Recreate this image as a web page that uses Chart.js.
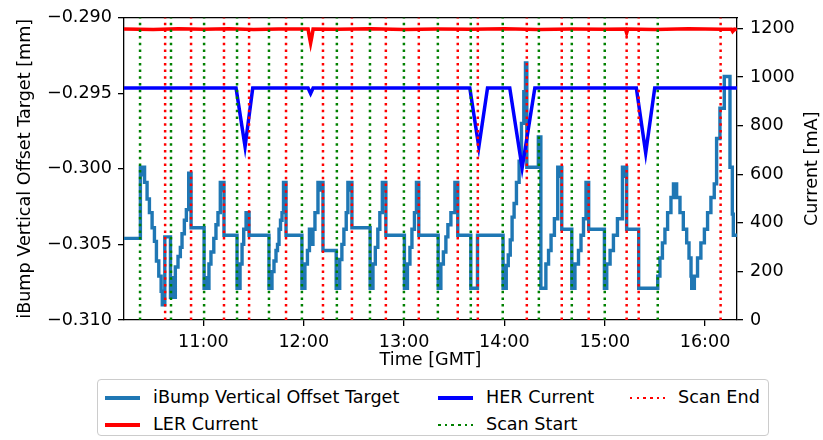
<!DOCTYPE html>
<html><head><meta charset="utf-8">
<script src="https://cdn.jsdelivr.net/npm/chart.js@4.4.1/dist/chart.umd.min.js"></script>
<style>
html,body{margin:0;padding:0;background:#fff;}
body{width:823px;height:440px;overflow:hidden;position:relative;font-family:"DejaVu Sans",sans-serif;}
#wrap{position:absolute;left:0;top:0;width:823px;height:374px;}
#legend{position:absolute;left:97px;top:379px;width:672px;height:57px;border:1px solid #cccccc;border-radius:4px;box-sizing:border-box;background:#fff;}
.lab{position:absolute;font-size:17.6px;line-height:20px;color:#000;white-space:nowrap;}
.sw{position:absolute;width:35px;}
</style>
</head><body>
<div id="wrap"><canvas id="c" width="823" height="374"></canvas></div>
<div id="legend"></div>
<script>
// ---------- data (time in minutes since 00:00 GMT) ----------
const iBumpTime = [
 612.5,622.3,623.3,623.9,624.8,626.3,627.7,629.3,630.7,631.9,633.3,634.7,635.4,636.9,
 640.3,641.2,641.8,643.2,644.8,646.2,647.2,648.6,649.8,651.2,652.6,
 660.4,661.6,662.2,663.3,664.5,666.2,667.5,668.7,670.1,670.8,671.4,672.3,
 680.1,681.9,683.1,684.1,685.5,686.4,686.8,687.3,
 699.2,701.0,702.2,703.4,704.3,705.2,706.1,707.0,707.9,708.5,708.9,709.4,
 718.9,720.7,722.2,723.4,724.6,725.5,726.7,728.5,729.7,730.3,731.5,
 739.4,741.5,742.8,744.0,745.4,746.4,747.6,748.2,748.8,
 759.7,761.4,762.8,764.3,765.5,767.0,768.2,768.6,769.1,
 780.2,782.0,783.5,784.7,786.2,787.4,788.8,
 800.4,802.0,803.5,805.0,806.2,808.0,810.4,811.3,811.7,812.1,
 819.9,823.9,
 839.2,841.1,842.3,843.5,844.6,845.8,847.2,848.8,850.2,851.6,852.6,853.4,
 860.3,861.8,864.8,866.4,867.9,869.9,871.9,872.8,873.4,874.3,
 880.3,882.2,884.3,885.8,887.3,888.8,889.5,889.9,890.4,
 899.8,901.2,903.2,905.2,907.6,910.6,911.7,912.3,913.1,
 920.3,
 931.7,933.0,934.5,936.0,937.6,939.6,941.1,943.0,945.0,947.0,949.0,950.4,951.6,952.0,952.6,953.0,953.6,955.5,957.5,959.6,961.5,963.5,965.5,966.9,968.9,971.5,974.9,976.3,976.9,979.1
];
const iBumpValue = [
 -0.3046,-0.2999,-0.3004,-0.2999,-0.3009,-0.3020,-0.3029,-0.3039,-0.3048,-0.3061,-0.3071,-0.3081,-0.3090,-0.3045,
 -0.3085,-0.3072,-0.3085,-0.3065,-0.3058,-0.3052,-0.3043,-0.3034,-0.3027,-0.3003,-0.3039,
 -0.3079,-0.3072,-0.3079,-0.3063,-0.3055,-0.3046,-0.3037,-0.3029,-0.3009,-0.3014,-0.3009,-0.3044,
 -0.3079,-0.3063,-0.3050,-0.3040,-0.3029,-0.3037,-0.3029,-0.3044,
 -0.3079,-0.3068,-0.3061,-0.3054,-0.3050,-0.3040,-0.3034,-0.3029,-0.3009,-0.3014,-0.3009,-0.3044,
 -0.3079,-0.3063,-0.3054,-0.3040,-0.3050,-0.3040,-0.3029,-0.3009,-0.3014,-0.3009,-0.3054,
 -0.3079,-0.3060,-0.3050,-0.3040,-0.3029,-0.3009,-0.3014,-0.3009,-0.3039,
 -0.3079,-0.3063,-0.3052,-0.3040,-0.3029,-0.3009,-0.3014,-0.3009,-0.3044,
 -0.3079,-0.3063,-0.3052,-0.3040,-0.3029,-0.3009,-0.3044,
 -0.3079,-0.3063,-0.3055,-0.3045,-0.3037,-0.3029,-0.3009,-0.3014,-0.3009,-0.3044,
 -0.3079,-0.3044,
 -0.3079,-0.3064,-0.3057,-0.3047,-0.3032,-0.3023,-0.3009,-0.2995,-0.2970,-0.2949,-0.2930,-0.2999,
 -0.2979,-0.3079,-0.3063,-0.3054,-0.3044,-0.3033,-0.2999,-0.3005,-0.2999,-0.3040,
 -0.3079,-0.3063,-0.3054,-0.3044,-0.3033,-0.3009,-0.3014,-0.3009,-0.3040,
 -0.3079,-0.3063,-0.3054,-0.3044,-0.3033,-0.2999,-0.3005,-0.2999,-0.3040,
 -0.3079,
 -0.3071,-0.3059,-0.3049,-0.3040,-0.3029,-0.3019,-0.3010,-0.3019,-0.3029,-0.3040,-0.3049,-0.3059,-0.3071,-0.3079,-0.3071,-0.3079,-0.3071,-0.3059,-0.3049,-0.3040,-0.3029,-0.3019,-0.3010,-0.2980,-0.2960,-0.2939,-0.2999,-0.3030,-0.3044,-0.3044
];
const herTime  = [612.5,679.5,684.9,689.5,722.6,724.1,725.6,819.3,824.7,829.9,843.2,850.6,858.2,918.9,924.5,929.9,979.1];
const herValue = [955,955,714,955,955,932,955,955,712,955,955,626,955,955,687,955,955];
const lerTime  = [612.5,630,645,660,675,690,705,722.6,723.4,724.1,724.8,725.6,740,760,780,800,820,840,860,880,900,912.4,913.1,913.8,930,950,970,975.8,976.5,977.6,979.1];
const lerValue = [1198,1196,1199,1197,1199,1196,1198,1198,1165,1140,1165,1198,1197,1199,1196,1198,1197,1199,1196,1198,1197,1198,1182,1198,1196,1199,1197,1197,1188,1197,1196];
const scanStart = [622.1,640.6,660.4,680.1,699.2,718.9,739.8,759.6,779.9,800.2,819.9,839.0,860.6,880.3,900.0,931.7];
const scanEnd   = [637.1,652.6,672.3,687.3,709.4,731.5,748.8,769.1,788.8,812.1,824.1,853.4,874.3,890.4,913.1,920.3,969.3];
const xTickValues = [660,720,780,840,900,960];
const xTickLabels = ['11:00','12:00','13:00','14:00','15:00','16:00'];
const leftTickValues = [-0.310,-0.305,-0.300,-0.295,-0.290];
const leftTickLabels = ['\u22120.310','\u22120.305','\u22120.300','\u22120.295','\u22120.290'];
const rightTickValues = [0,200,400,600,800,1000,1200];
const rightTickLabels = ['0','200','400','600','800','1000','1200'];
const xRange = [612.5, 979.1];
const leftRange = [-0.310, -0.290];
const rightRange = [0, 1245];
const labels = {
  ibump:'iBump Vertical Offset Target', ler:'LER Current', her:'HER Current',
  start:'Scan Start', end:'Scan End',
  xTitle:'Time [GMT]', yTitle:'iBump Vertical Offset Target [mm]', y2Title:'Current [mA]'
};
// -------------------------------------------------------------
const C = {ibump:'#1f77b4', ler:'#ff0000', her:'#0000ff', start:'#008000', end:'#ff0000'};
const FONT = {family:'"DejaVu Sans", sans-serif', size:17.6};
const zip = (t,v)=>t.map((x,i)=>({x:x,y:v[i]}));
const vlines = ts => ts.flatMap(t=>[{x:t,y:leftRange[0]},{x:t,y:leftRange[1]},{x:t,y:null}]);
const fixTicks = vals => axis => { axis.ticks = vals.map(v=>({value:v})); };
const tickCommon = {color:'#000', font:FONT};
const gridCommon = {display:true, drawOnChartArea:false, drawTicks:true, tickLength:6, color:'#000', tickColor:'#000', lineWidth:1.3, tickWidth:1.3};
const borderCommon = {display:true, color:'#000', width:1.3};

const rightTitle = {
  id:'rightTitle',
  afterDraw(chart){
    const ctx = chart.ctx, a = chart.chartArea;
    ctx.save();
    ctx.translate(chart.width - 10.5, (a.top + a.bottom)/2);
    ctx.rotate(-Math.PI/2);
    ctx.font = '17.6px "DejaVu Sans"';
    ctx.fillStyle = '#000';
    ctx.textAlign = 'center';
    ctx.textBaseline = 'middle';
    ctx.fillText(labels.y2Title, 0, 0);
    ctx.restore();
  }
};

new Chart(document.getElementById('c'), {
  type:'line',
  data:{datasets:[
    {label:labels.ibump, data:zip(iBumpTime,iBumpValue), yAxisID:'y', stepped:true, borderColor:C.ibump, borderWidth:3.4, pointRadius:0, borderJoinStyle:'miter', order:5},
    {label:labels.ler, data:zip(lerTime,lerValue), yAxisID:'y2', borderColor:C.ler, borderWidth:3.6, pointRadius:0, order:4},
    {label:labels.her, data:zip(herTime,herValue), yAxisID:'y2', borderColor:C.her, borderWidth:3.5, pointRadius:0, order:3},
    {label:labels.start, data:vlines(scanStart), yAxisID:'y', borderColor:C.start, borderWidth:2.5, borderDash:[2.5,4.2], pointRadius:0, spanGaps:false, borderCapStyle:'butt', order:2},
    {label:labels.end, data:vlines(scanEnd), yAxisID:'y', borderColor:C.end, borderWidth:2.5, borderDash:[2.5,4.2], pointRadius:0, spanGaps:false, borderCapStyle:'butt', order:1}
  ]},
  options:{
    responsive:false, animation:false, devicePixelRatio:1,
    parsing:false, normalized:true,
    layout:{padding:0},
    plugins:{legend:{display:false}, tooltip:{enabled:false}},
    elements:{line:{tension:0}},
    scales:{
      x:{type:'linear', position:'bottom', min:xRange[0], max:xRange[1],
         afterBuildTicks:fixTicks(xTickValues),
         afterFit:s=>{s.height = 54;},
         ticks:{...tickCommon, padding:6, maxRotation:0, autoSkip:false, callback:(v)=>xTickLabels[xTickValues.indexOf(v)]},
         grid:gridCommon, border:borderCommon,
         title:{display:true, text:labels.xTitle, color:'#000', font:FONT, padding:{top:0,bottom:3}}},
      xTop:{type:'linear', position:'top', min:xRange[0], max:xRange[1],
         afterFit:s=>{s.height = 15;},
         ticks:{display:false}, grid:{display:false}, border:borderCommon},
      y:{type:'linear', position:'left', min:leftRange[0], max:leftRange[1],
         afterBuildTicks:fixTicks(leftTickValues),
         afterFit:s=>{s.width = 124;},
         ticks:{...tickCommon, padding:6, autoSkip:false, callback:(v)=>leftTickLabels[leftTickValues.findIndex(t=>Math.abs(t-v)<1e-9)]},
         grid:gridCommon, border:borderCommon,
         title:{display:true, text:labels.yTitle, color:'#000', font:FONT, padding:{top:15,bottom:0}}},
      y2:{type:'linear', position:'right', min:rightRange[0], max:rightRange[1],
         afterBuildTicks:fixTicks(rightTickValues),
         afterFit:s=>{s.width = 86;},
         ticks:{...tickCommon, padding:7, autoSkip:false, callback:(v)=>rightTickLabels[rightTickValues.indexOf(v)]},
         grid:gridCommon, border:borderCommon}
    }
  },
  plugins:[rightTitle]
});

// ---------- legend (3 columns, column-major like the reference) ----------
const legendItems = [
  {key:'ibump', col:0, row:0, style:'solid'},
  {key:'ler',   col:0, row:1, style:'solid'},
  {key:'her',   col:1, row:0, style:'solid'},
  {key:'start', col:1, row:1, style:'dot'},
  {key:'end',   col:2, row:0, style:'dot'}
];
const colX = [7, 340, 532];
const rowY = [18, 45];
const lg = document.getElementById('legend');
legendItems.forEach(it=>{
  const sw = document.createElement('div');
  sw.className = 'sw';
  sw.style.left = colX[it.col] + 'px';
  if (it.style === 'solid') {
    sw.style.top = (rowY[it.row] - 1.75) + 'px';
    sw.style.height = '3.5px';
    sw.style.background = C[it.key];
  } else {
    sw.style.top = (rowY[it.row] - 1.25) + 'px';
    sw.style.height = '2.5px';
    sw.style.background = 'repeating-linear-gradient(to right,' + C[it.key] + ' 0 2.5px, transparent 2.5px 6.7px)';
  }
  lg.appendChild(sw);
  const t = document.createElement('div');
  t.className = 'lab';
  t.textContent = labels[it.key];
  t.style.left = (colX[it.col] + 48) + 'px';
  t.style.top = (rowY[it.row] - 11) + 'px';
  lg.appendChild(t);
});
</script>
</body></html>
